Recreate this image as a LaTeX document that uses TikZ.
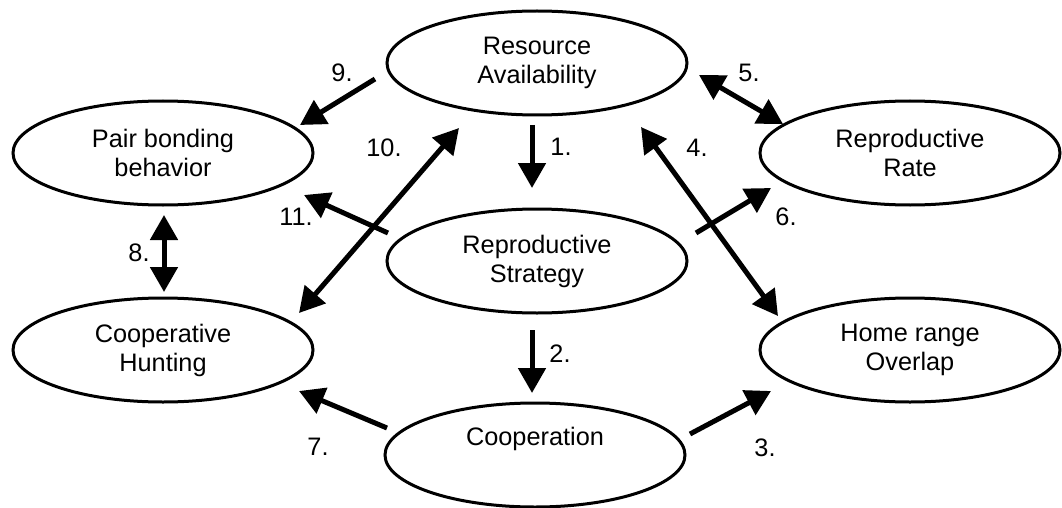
\documentclass[tikz,border=0pt]{standalone}
\usepackage{fontspec}
\setmainfont{Liberation Sans}
\usetikzlibrary{arrows.meta,shapes.geometric}
\begin{document}
\begin{tikzpicture}[x=1pt,y=-1pt,
  oval/.style={draw=black,line width=3pt,ellipse,minimum width=300pt,minimum height=104pt,inner sep=0pt,align=center,font=\fontsize{25.3}{29}\selectfont},
  arr/.style={line width=5pt,-{Triangle[length=25pt,width=27pt]}},
  darr/.style={line width=5pt,{Triangle[length=25pt,width=27pt]}-{Triangle[length=25pt,width=27pt]}},
  num/.style={font=\fontsize{25.3}{29}\selectfont,inner sep=0pt}]
\useasboundingbox (0,0) rectangle (1062,508);
\node[oval] (res) at (537,63) {Resource\\Availability};
\node[oval] (pair) at (163,153) {Pair bonding\\behavior};
\node[oval] (rate) at (910,153) {Reproductive\\Rate};
\node[oval] (strat) at (537,261) {Reproductive\\Strategy};
\node[oval] (hunt) at (163,350) {Cooperative\\Hunting};
\node[oval] (home) at (910,350) {Home range\\Overlap};
\node[oval] (coop) at (535,455) {Cooperation\\\strut};
% arrows
\draw[arr] ([shift={(-5,62)}]res.center) -- ([shift={(-5,-73)}]strat.center);
\draw[arr] ([shift={(-5,69)}]strat.center) -- ([shift={(-3,-62)}]coop.center);
\draw[arr] ([shift={(155,-21)}]coop.center) -- ([shift={(-139,41)}]home.center);
\draw[darr] ([shift={(104,64)}]res.center) -- ([shift={(-132,-34)}]home.center);
\draw[darr] ([shift={(162,12)}]res.center) -- ([shift={(-127,-29)}]rate.center);
\draw[arr] ([shift={(159,-28)}]strat.center) -- ([shift={(-139,35)}]rate.center);
\draw[arr] ([shift={(-148,-27)}]coop.center) -- ([shift={(136,41)}]hunt.center);
\draw[darr] ([shift={(1,62)}]pair.center) -- ([shift={(1,-58)}]hunt.center);
\draw[arr] ([shift={(-162,16)}]res.center) -- ([shift={(137,-28)}]pair.center);
\draw[darr] ([shift={(-78,65)}]res.center) -- ([shift={(136,-37)}]hunt.center);
\draw[arr] ([shift={(-149,-28)}]strat.center) -- ([shift={(141,42)}]pair.center);
% labels
\node[num] (n1) at (561,147) {1.};
\node[num] (n2) at (560,354) {2.};
\node[num] (n3) at (765,448) {3.};
\node[num] (n4) at (697,148) {4.};
\node[num] (n5) at (749,73) {5.};
\node[num] (n6) at (786,217) {6.};
\node[num] (n7) at (318,447) {7.};
\node[num] (n8) at (139,253) {8.};
\node[num] (n9) at (342,73) {9.};
\node[num] (n10) at (384,148) {10.};
\node[num] (n11) at (296,217) {11.};
\end{tikzpicture}
\end{document}
